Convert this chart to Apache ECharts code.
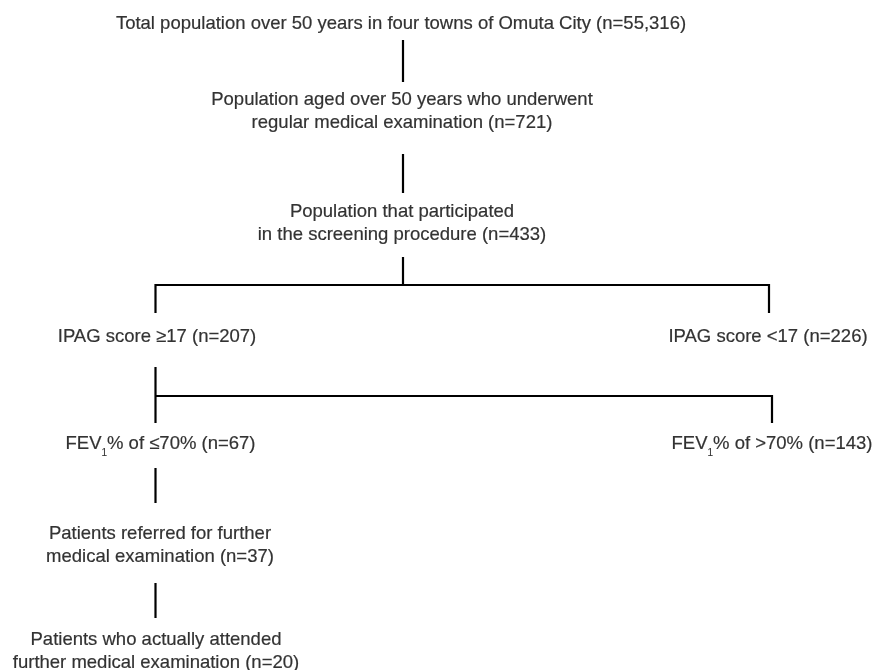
<!DOCTYPE html>
<html>
<head>
<meta charset="utf-8">
<script src="https://cdn.jsdelivr.net/npm/echarts@6/dist/echarts.min.js"></script>
<style>html,body{margin:0;padding:0;background:#fff}#c{width:874px;height:670px}</style>
</head>
<body>
<div id="c"></div>
<script>
// Flowchart content
const nodeTexts = [
  'Total population over 50 years in four towns of Omuta City (n=55,316)',
  'Population aged over 50 years who underwent\nregular medical examination (n=721)',
  'Population that participated\nin the screening procedure (n=433)',
  'IPAG score \u226517 (n=207)',
  'IPAG score <17 (n=226)',
  '{t|FEV}{s|1}{t|% of \u226470% (n=67)}',
  '{t|FEV}{s|1}{t|% of >70% (n=143)}',
  'Patients referred for further\nmedical examination (n=37)',
  'Patients who actually attended\nfurther medical examination (n=20)'
];
const nodeCounts = [55316, 721, 433, 207, 226, 67, 143, 37, 20];

// Layout (positions in chart units of the hidden axes)
const nodeX = [401, 402, 402, 157, 768, 160.5, 772, 160, 156];
const nodeY = [23.5, 111, 223, 337, 337, 444, 444, 545, 651.5];
const connectors = [
  [[403, 40], [403, 82]],
  [[403, 154], [403, 193]],
  [[403, 257], [403, 285]],
  [[155.5, 313], [155.5, 285], [769, 285], [769, 313]],
  [[155.5, 367], [155.5, 423]],
  [[155.5, 396], [772, 396], [772, 423]],
  [[155.5, 468], [155.5, 503]],
  [[155.5, 583], [155.5, 618]]
];

const FONT = 'Liberation Sans, Arial, sans-serif';
const FS = 18.5;
const LH = 23;
const chart = echarts.init(document.getElementById('c'), null, {renderer: 'canvas'});
chart.setOption({
  animation: false,
  backgroundColor: '#ffffff',
  grid: {left: 0, right: 0, top: 0, bottom: 0},
  xAxis: {type: 'value', min: 0, max: 874, show: false},
  yAxis: {type: 'value', min: 0, max: 670, inverse: true, show: false},
  series: [
    {
      type: 'lines',
      coordinateSystem: 'cartesian2d',
      polyline: true,
      silent: true,
      lineStyle: {color: '#000000', width: 2.2, opacity: 1, cap: 'butt', join: 'miter'},
      data: connectors.map(c => ({coords: c}))
    },
    {
      type: 'scatter',
      symbolSize: 0,
      silent: true,
      data: nodeTexts.map((t, i) => ({value: [nodeX[i], nodeY[i], nodeCounts[i]], name: t})),
      label: {
        show: true,
        position: 'inside',
        formatter: p => p.name,
        color: '#000000',
        textBorderColor: '#000000',
        textBorderWidth: 0.2,
        fontFamily: FONT,
        fontSize: FS,
        lineHeight: LH,
        align: 'center',
        verticalAlign: 'middle',
        rich: {
          t: {fontFamily: FONT, fontSize: FS, color: '#000000', lineHeight: LH, textBorderColor: '#000000', textBorderWidth: 0.2},
          s: {fontFamily: FONT, fontSize: 10, color: '#000000', lineHeight: 2, verticalAlign: 'bottom', padding: [0, 0, -3, 0], textBorderColor: '#000000', textBorderWidth: 0.1}
        }
      }
    }
  ]
});
</script>
</body>
</html>
